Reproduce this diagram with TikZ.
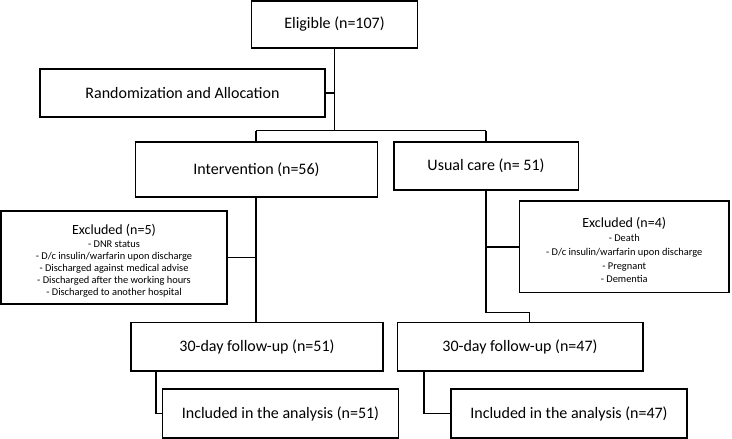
\documentclass[tikz,border=0pt]{standalone}
\usepackage{fontspec}
\setmainfont{Carlito}
\begin{document}
\begin{tikzpicture}[x=1pt,y=-1pt,
  box/.style={draw,line width=1.5pt,align=center,inner sep=0pt,font=\fontsize{16}{19}\selectfont},
  exbox/.style={draw,line width=1.5pt,align=center,inner sep=0pt},
  conn/.style={line width=1.5pt}]
\useasboundingbox (0,0) rectangle (732,439);
\node[box,minimum width=166pt,minimum height=47pt] (elig) at (334.5,24.5) {Eligible (n=107)};
\node[box,minimum width=285pt,minimum height=48pt] (rand) at (182.5,93) {Randomization and Allocation};
\node[box,minimum width=242pt,minimum height=55pt] (interv) at (256.5,169.5) {Intervention (n=56)};
\node[box,minimum width=184.5pt,minimum height=48pt] (usual) at (486,166) {Usual care (n= 51)};
\node[exbox,font=\fontsize{10.4}{11.9}\selectfont,minimum width=226pt,minimum height=93pt] (exclL) at (114,257.5)
  {{\fontsize{14}{16}\selectfont\rule{0pt}{16pt}Excluded (n=5)}\\[1.5pt]
   - DNR status\\ - D/c insulin/warfarin upon discharge\\ - Discharged against medical advise\\ - Discharged after the working hours\\ - Discharged to another hospital};
\node[exbox,font=\fontsize{10.4}{13.6}\selectfont,minimum width=209.5pt,minimum height=91.5pt] (exclR) at (624.25,246.75)
  {{\fontsize{14}{16}\selectfont\rule{0pt}{17pt}Excluded (n=4)}\\[0.5pt]
   - Death\\ - D/c insulin/warfarin upon discharge\\ - Pregnant\\ - Dementia};
\node[box,minimum width=252pt,minimum height=48.5pt] (fuL) at (257,346.75) {30-day follow-up (n=51)};
\node[box,minimum width=245.5pt,minimum height=48.5pt] (fuR) at (520,346.75) {30-day follow-up (n=47)};
\node[box,minimum width=236pt,minimum height=49pt] (incL) at (280.5,413.5) {Included in the analysis (n=51)};
\node[box,minimum width=236pt,minimum height=49pt] (incR) at (569,413.5) {Included in the analysis (n=47)};
\coordinate (j1) at (334.5,130.5);
\coordinate (jl) at (256,130.5);
\coordinate (jr) at (486,130.5);
\coordinate (ur1) at (486,312.5);
\coordinate (ur2) at (529.5,312.5);
\coordinate (fl) at (156,371);
\coordinate (fr) at (424,371);
\draw[conn] (elig.south) -- (j1);
\draw[conn] (rand.east) -- (rand.east -| j1);
\draw[conn] (jl) -- (jr);
\draw[conn] (jl) -- (jl |- interv.north);
\draw[conn] (jr) -- (jr |- usual.north);
\draw[conn] (jl |- interv.south) -- (jl |- fuL.north);
\draw[conn] (exclL.east) -- (exclL.east -| jl);
\draw[conn] (jr |- usual.south) -- (ur1) -- (ur2) -- (ur2 |- fuR.north);
\draw[conn] (exclR.west) -- (exclR.west -| jr);
\draw[conn] (fl) -- (fl |- incL.west) -- (incL.west);
\draw[conn] (fr) -- (fr |- incR.west) -- (incR.west);
\end{tikzpicture}
\end{document}
